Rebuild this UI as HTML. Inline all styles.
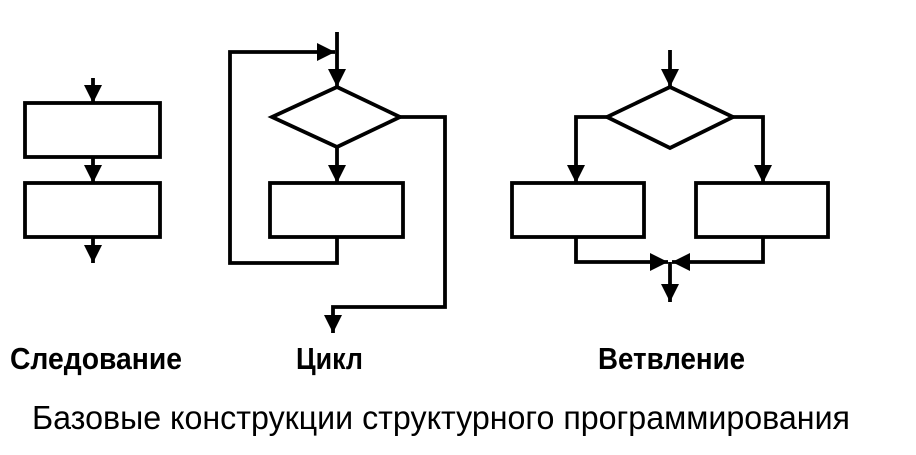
<!DOCTYPE html>
<html><head><meta charset="utf-8"><style>html,body{margin:0;padding:0;background:#fff}svg{display:block}</style></head>
<body>
<svg width="916" height="455" viewBox="0 0 916 455" xmlns="http://www.w3.org/2000/svg">
<defs>
<marker id="a" viewBox="0 0 10 10" refX="10" refY="5" markerWidth="18" markerHeight="20" markerUnits="userSpaceOnUse" orient="auto"><path d="M0,0L10,5L0,10z" fill="#000"/></marker>
</defs>
<g fill="none" stroke="#000" stroke-width="3.8">
<line x1="93" y1="78" x2="93" y2="103" marker-end="url(#a)"/>
<rect x="25" y="103" width="135" height="54"/>
<line x1="93" y1="157" x2="93" y2="183" marker-end="url(#a)"/>
<rect x="25" y="183" width="135" height="54"/>
<line x1="93" y1="237" x2="93" y2="263" marker-end="url(#a)"/>
<line x1="337" y1="32" x2="337" y2="87" marker-end="url(#a)"/>
<polyline points="337,237 337,263 230,263 230,52 335,52" marker-end="url(#a)"/>
<polygon points="337,87 400,117 337,147 272,117"/>
<line x1="337" y1="147" x2="337" y2="183" marker-end="url(#a)"/>
<rect x="270" y="183" width="133" height="54"/>
<polyline points="400,117 445,117 445,307 333,307 333,333" marker-end="url(#a)"/>
<line x1="670" y1="50" x2="670" y2="87" marker-end="url(#a)"/>
<polygon points="670,87 733,117 670,148 607,117"/>
<polyline points="607,117 576,117 576,183" marker-end="url(#a)"/>
<polyline points="733,117 763,117 763,183" marker-end="url(#a)"/>
<rect x="512" y="183" width="132" height="54"/>
<rect x="696" y="183" width="132" height="54"/>
<polyline points="576,237 576,262 668,262" marker-end="url(#a)"/>
<polyline points="763,237 763,262 672,262" marker-end="url(#a)"/>
<line x1="670" y1="262" x2="670" y2="302" marker-end="url(#a)"/>
</g>
<g font-family="Liberation Sans, sans-serif" fill="#000">
<text x="10" y="369" font-size="31" font-weight="bold" textLength="172" lengthAdjust="spacingAndGlyphs">Следование</text>
<text x="296" y="369" font-size="31" font-weight="bold" textLength="67" lengthAdjust="spacingAndGlyphs">Цикл</text>
<text x="598" y="369" font-size="31" font-weight="bold" textLength="147" lengthAdjust="spacingAndGlyphs">Ветвление</text>
<text x="32" y="429" font-size="33" textLength="818" lengthAdjust="spacingAndGlyphs">Базовые конструкции структурного программирования</text>
</g>
</svg>
</body></html>
